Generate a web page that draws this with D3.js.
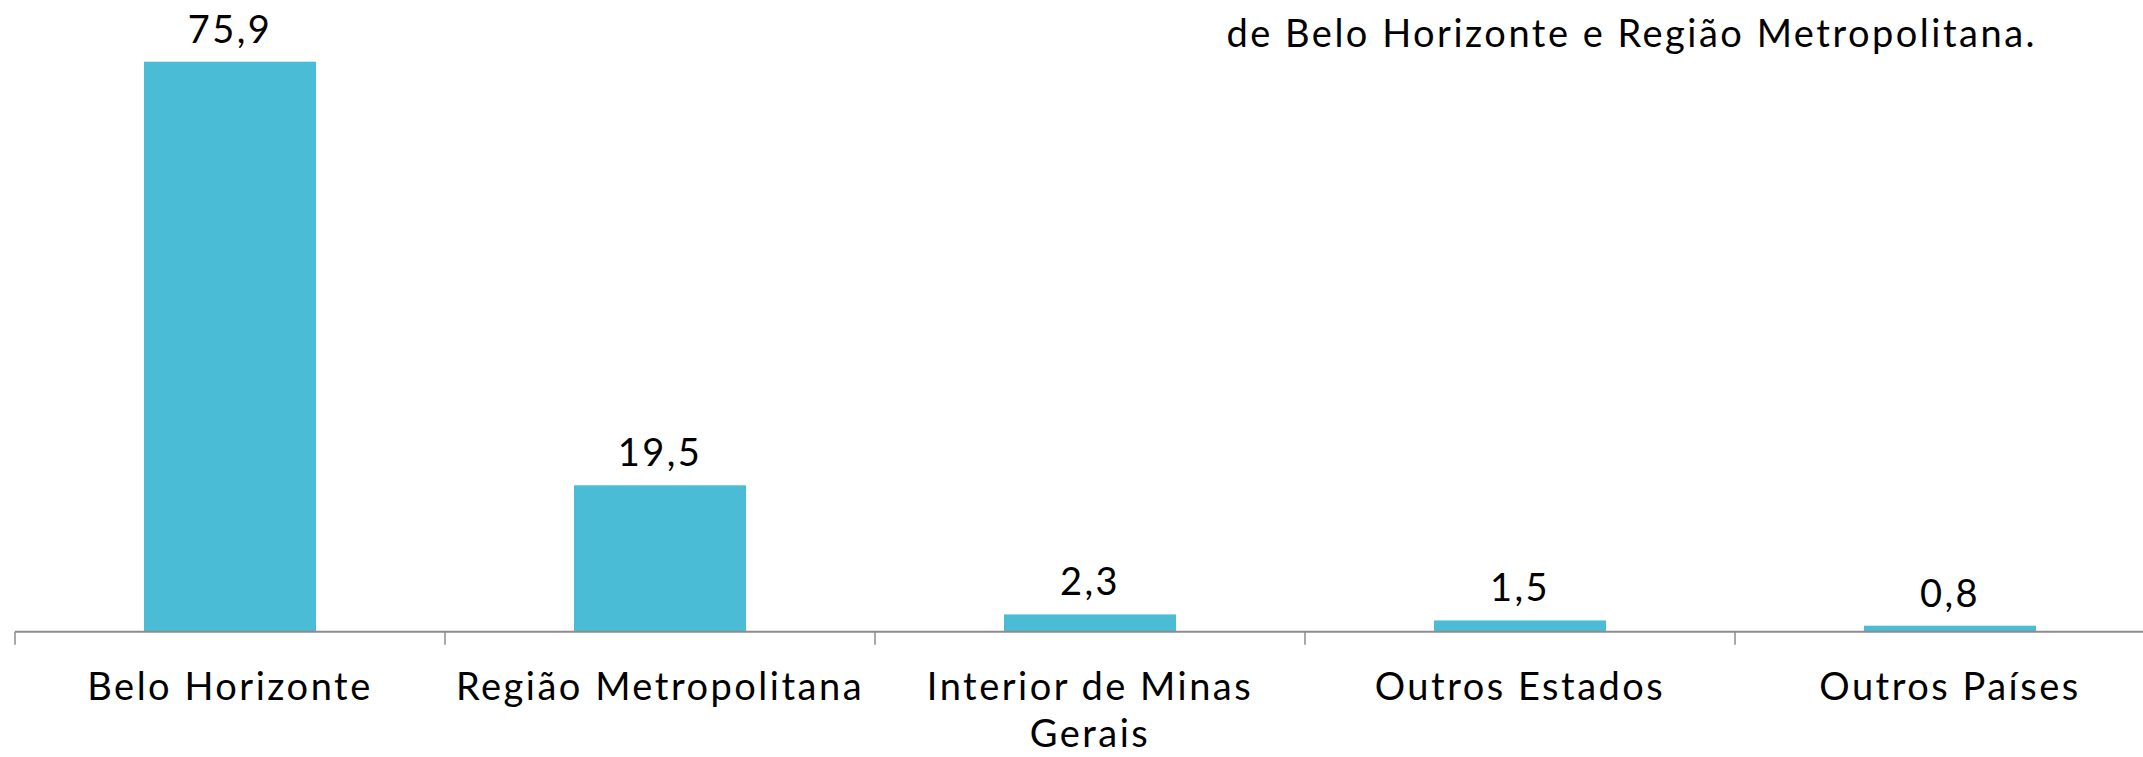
<!DOCTYPE html>
<html>
<head>
<meta charset="utf-8">
<script src="https://cdn.jsdelivr.net/npm/d3@7"></script>
<style>
  body { margin: 0; background: #fff; }
  text { font-family: Lato, "Noto Sans", sans-serif; fill: #000; letter-spacing: 2.5px; }
</style>
</head>
<body>
<div id="wrapper"></div>
<script>
// data
const categories = ["Belo Horizonte", "Região Metropolitana", "Interior de Minas Gerais", "Outros Estados", "Outros Países"]
const tickLabels = [["Belo Horizonte"], ["Região Metropolitana"], ["Interior de Minas", "Gerais"], ["Outros Estados"], ["Outros Países"]]
const values = [75.9, 19.5, 2.3, 1.5, 0.8]
const valueLabels = ["75,9", "19,5", "2,3", "1,5", "0,8"]
const titleText = "de Belo Horizonte e Região Metropolitana."

function drawChart() {
  const width = 2143
  const height = 757
  const axisY = 631.7
  const fontSize = 38

  const svg = d3.select("#wrapper")
    .append("svg")
      .attr("width", width)
      .attr("height", height)

  const xScale = d3.scaleBand()
    .domain(categories)
    .range([15, 2165])
    .paddingInner(0.6)
    .paddingOuter(0.3)

  const yScale = d3.scaleLinear()
    .domain([0, 80])
    .range([axisY, axisY - 80 * 7.51])

  const step = xScale.step()

  // bars
  svg.selectAll("rect.bar")
    .data(values)
    .join("rect")
      .attr("class", "bar")
      .attr("x", (d, i) => xScale(categories[i]))
      .attr("y", d => yScale(d))
      .attr("width", xScale.bandwidth())
      .attr("height", d => yScale(0) - yScale(d))
      .attr("fill", "#4bbcd6")

  // axis line
  svg.append("line")
    .attr("x1", 15).attr("x2", width)
    .attr("y1", axisY).attr("y2", axisY)
    .attr("stroke", "#8c8c8c")
    .attr("stroke-width", 2)

  // ticks at category boundaries
  const boundaries = d3.range(categories.length + 1).map(i => 15 + i * step)
  svg.selectAll("line.tick")
    .data(boundaries)
    .join("line")
      .attr("class", "tick")
      .attr("x1", d => d).attr("x2", d => d)
      .attr("y1", axisY).attr("y2", axisY + 13)
      .attr("stroke", "#8c8c8c")
      .attr("stroke-width", 1.5)

  // value labels
  svg.selectAll("text.value")
    .data(values)
    .join("text")
      .attr("class", "value")
      .attr("x", (d, i) => xScale(categories[i]) + xScale.bandwidth() / 2)
      .attr("y", d => yScale(d) - 19)
      .attr("text-anchor", "middle")
      .attr("font-size", fontSize)
      .text((d, i) => valueLabels[i])

  // category labels
  const catLabel = svg.selectAll("text.cat")
    .data(tickLabels)
    .join("text")
      .attr("class", "cat")
      .attr("text-anchor", "middle")
      .attr("font-size", fontSize)
      .attr("transform", (d, i) => `translate(${xScale(categories[i]) + xScale.bandwidth() / 2}, ${axisY + 68})`)

  catLabel.selectAll("tspan")
    .data(d => d)
    .join("tspan")
      .attr("x", 0)
      .attr("y", (d, i) => i * 47)
      .text(d => d)

  // title fragment
  svg.append("text")
    .attr("x", 2037)
    .attr("y", 47)
    .attr("text-anchor", "end")
    .attr("font-size", fontSize)
    .text(titleText)
}
drawChart()
</script>
</body>
</html>
